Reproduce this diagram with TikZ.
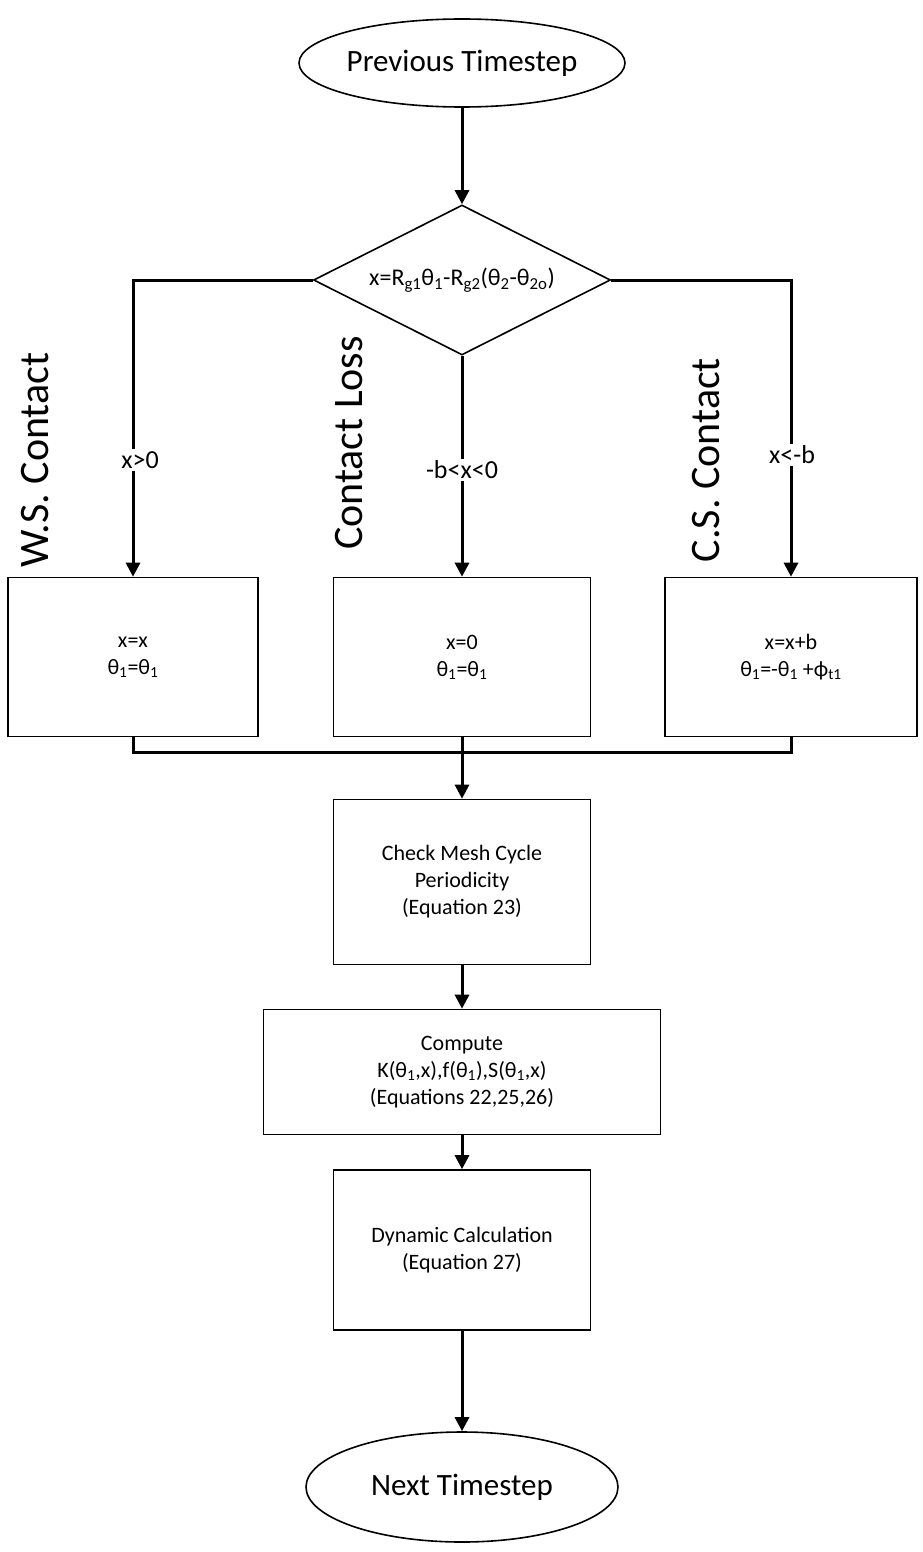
\documentclass[tikz,border=0pt]{standalone}
\usepackage{fontspec}
\setmainfont{Carlito}
\usetikzlibrary{shapes.geometric,arrows.meta}
\newcommand{\sbx}[1]{\textsubscript{#1}}
\begin{document}
\begin{tikzpicture}[x=1pt,y=-1pt,
  box/.style={draw,line width=1.6pt,minimum width=#1,align=center,font=\fontsize{22}{27}\selectfont,inner sep=0pt},
  term/.style={draw,ellipse,line width=1.6pt,minimum width=312pt,minimum height=88pt,inner sep=0pt,font=\fontsize{31}{36}\selectfont},
  conn/.style={line width=3pt},
  arr/.style={conn,-{Triangle[length=14pt,width=14pt]}},
  side/.style={rotate=90,font=\fontsize{42}{46}\selectfont},
  cond/.style={fill=white,font=\fontsize{26}{30}\selectfont,inner sep=2pt}]
\useasboundingbox (0,0) rectangle (923,1552);
\node[term] (start) at (462,63) {Previous Timestep};
\node[draw,diamond,line width=1.6pt,aspect=1.98,minimum width=297pt,minimum height=150pt,inner sep=0pt,font=\fontsize{24}{28}\selectfont] (dec) at (462,280) {x=R\sbx{g1}θ\sbx{1}-R\sbx{g2}(θ\sbx{2}-θ\sbx{2o})};
\node[box=250pt,minimum height=159pt] (b1) at (133,657) {x=x\\θ\sbx{1}=θ\sbx{1}};
\node[box=257pt,minimum height=159pt] (b2) at (462,657) {x=0\\θ\sbx{1}=θ\sbx{1}};
\node[box=252pt,minimum height=159pt] (b3) at (791,657) {x=x+b\\θ\sbx{1}=-θ\sbx{1} +ϕ\sbx{t1}};
\node[box=257pt,minimum height=165pt] (c1) at (462,882) {Check Mesh Cycle\\Periodicity\\(Equation 23)};
\node[box=397pt,minimum height=125pt] (c2) at (462,1072) {Compute\\K(θ\sbx{1},x),f(θ\sbx{1}),S(θ\sbx{1},x)\\(Equations 22,25,26)};
\node[box=257pt,minimum height=160pt] (c3) at (462,1250) {Dynamic Calculation\\(Equation 27)};
\node[term,minimum height=110pt] (end) at (462,1487) {Next Timestep};
\coordinate (lc) at (b1.north |- dec.west);
\coordinate (rc) at (b3.north |- dec.east);
\coordinate (m1) at (133,752);
\coordinate (m3) at (791,752);
\draw[arr] (start) -- (dec.north);
\draw[arr] (dec.west) -- (lc) -- (b1.north);
\draw[arr] (dec.east) -- (rc) -- (b3.north);
\draw[arr] (dec.south) -- (b2.north);
\draw[conn] (b1.south) -- (m1) -- (m3) -- (b3.south);
\draw[arr] (b2.south) -- (c1.north);
\draw[arr] (c1) -- (c2);
\draw[arr] (c2) -- (c3);
\draw[arr] (c3) -- (end);
\node[cond] (l1) at (140,460) {x>0};
\node[cond] (l2) at (462,470) {-b<x<0};
\node[cond] (l3) at (792,455) {x<-b};
\node[side] (s1) at (35,460) {W.S. Contact};
\node[side] (s2) at (349,443) {Contact Loss};
\node[side] (s3) at (706,460) {C.S. Contact};
\end{tikzpicture}
\end{document}
